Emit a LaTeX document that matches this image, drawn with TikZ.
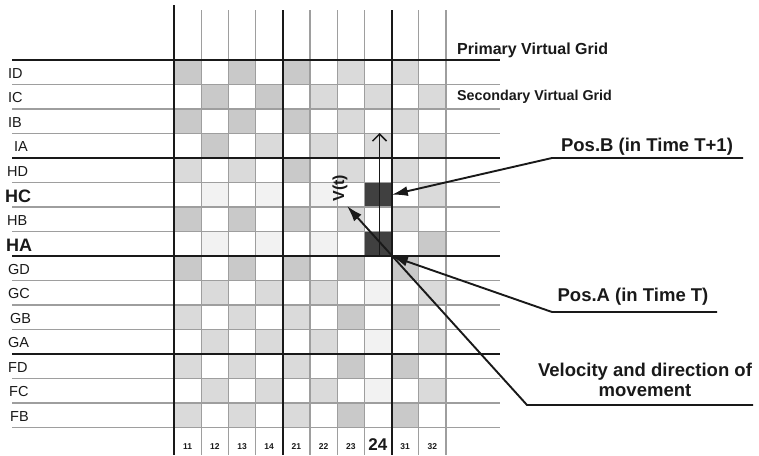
\documentclass[tikz,border=0pt]{standalone}
\usepackage{fontspec}
\setmainfont{Liberation Sans}
\usetikzlibrary{arrows.meta}
\definecolor{cm}{gray}{0.79}
\definecolor{cl}{gray}{0.855}
\definecolor{cv}{gray}{0.95}
\definecolor{cw}{gray}{1}
\definecolor{cd}{gray}{0.25}
\definecolor{gridgray}{gray}{0.62}
\definecolor{ink}{gray}{0.1}
\begin{document}
\begin{tikzpicture}[x=1pt,y=-1pt,
  thickline/.style={line width=1.9pt, ink},
  thinline/.style={line width=1.2pt, gridgray},
  rowlab/.style={anchor=west, inner sep=0pt, text=ink, font=\fontsize{14.5}{15}\selectfont},
  rowbold/.style={anchor=west, inner sep=0pt, text=ink, font=\fontsize{18}{19}\selectfont\bfseries},
  collab/.style={inner sep=0pt, text=ink, font=\fontsize{8.5}{9}\selectfont\bfseries},
  colbig/.style={inner sep=0pt, text=ink, font=\fontsize{17}{18}\selectfont\bfseries},
  lbl/.style={inner sep=0pt, text=ink, font=\fontsize{18.5}{20}\selectfont\bfseries},
  darkcell/.style={fill=cd, draw=none, minimum width=27.2pt, minimum height=24.5pt, inner sep=0pt},
  conn/.style={line width=1.9pt, ink},
  tipfill/.style={-{Latex[length=16pt,width=10pt]}}
]
\useasboundingbox (0,0) rectangle (759,455);

% cells
\foreach \row [count=\r from 0] in {
 {m,w,m,w,m,w,l,w,l,w},
 {w,m,w,m,w,l,w,l,w,l},
 {m,w,m,w,m,w,l,w,l,w},
 {w,m,w,l,w,l,w,l,w,l},
 {l,w,l,w,m,w,l,w,l,w},
 {w,v,w,v,w,v,w,w,w,l},
 {m,w,m,w,m,w,l,w,l,w},
 {w,v,w,v,w,v,w,w,w,m},
 {m,w,m,w,m,w,m,w,m,w},
 {w,l,w,l,w,l,w,v,w,l},
 {l,w,l,w,l,w,m,w,m,w},
 {w,l,w,l,w,l,w,v,w,l},
 {l,w,l,w,l,w,m,w,m,w},
 {w,l,w,l,w,l,w,v,w,l},
 {l,w,l,w,l,w,m,w,m,w}} {
  \foreach \t [count=\c from 0] in \row {
    \fill[fill=c\t] (174+27.2*\c, 60+24.5*\r) rectangle ++(27.2,24.5);
  }
}

% dark cells
\node[darkcell] (posB) at (378, 194.75) {};
\node[darkcell] (posA) at (378, 243.75) {};

% thin grid lines
\foreach \r in {1,2,3,5,6,7,9,10,11,13,14,15}
  \draw[thinline] (12,60+24.5*\r) -- (500,60+24.5*\r);
\foreach \c in {1,2,3,5,6,7,9,10}
  \draw[thinline] (174+27.2*\c,10) -- (174+27.2*\c,455);

% thick lines
\foreach \r in {0,4,8,12}
  \draw[thickline] (12,60+24.5*\r) -- (500,60+24.5*\r);
\draw[thickline] (174,5) -- (174,455);
\foreach \c in {4,8}
  \draw[thickline] (174+27.2*\c,10) -- (174+27.2*\c,455);

% row labels
\foreach \lab/\xx/\r in {ID/8/0, IC/8/1, IB/8/2, IA/14/3, HD/7/4, HB/7/6, GD/8/8, GC/8/9, GB/10/10, GA/8/11, FD/8/12, FC/9/13, FB/10/14}
  \node[rowlab] (row\r) at (\xx, 73.5+24.5*\r) {\lab};
\node[rowbold] (row5) at (5, 73.5+24.5*5) {HC};
\node[rowbold] (row7) at (6, 73.5+24.5*7) {HA};

% column labels
\foreach \lab [count=\c from 0] in {11,12,13,14,21,22,23}
  \node[collab] (col\c) at (187.6+27.2*\c, 447) {\lab};
\node[colbig] (col24) at (377.8, 445) {24};
\node[collab] (col31) at (405.2, 447) {31};
\node[collab] (col32) at (432.4, 447) {32};

% grid titles
\node[anchor=west, inner sep=0pt, text=ink, font=\fontsize{16}{17}\selectfont\bfseries] (pvg) at (457,50) {Primary Virtual Grid};
\node[anchor=west, inner sep=0pt, text=ink, font=\fontsize{14.3}{15}\selectfont\bfseries] (svg) at (457,97) {Secondary Virtual Grid};

% velocity vector
\coordinate (vbase) at (379.5,256);
\coordinate (vtop) at (379.5,133);
\draw[line width=1.5pt, ink, -{Straight Barb[length=7pt,width=14pt]}] (vbase) -- (vtop);
\node[rotate=90, inner sep=0pt, text=ink, font=\fontsize{16}{17}\selectfont\bfseries] (vt) at (340,188) {V(t)};

% Pos.B
\node[lbl] (lblB) at (647,147) {Pos.B (in Time T+1)};
\coordinate (bL) at (552,158);
\coordinate (bR) at (743,158);
\draw[conn, tipfill] (bR) -- (bL) -- (posB.east);

% Pos.A
\node[lbl] (lblA) at (633,297) {Pos.A (in Time T)};
\coordinate (aL) at (552,312);
\coordinate (aR) at (717,312);
\draw[conn, tipfill] (aR) -- (aL) -- (posA.south east);

% Velocity
\node[lbl, align=center] (lblV) at (645,380) {Velocity and direction of\\movement};
\coordinate (vL) at (527,405);
\coordinate (vR) at (753,405);
\coordinate (vtip) at (347,206);
\draw[conn, tipfill] (vR) -- (vL) -- (vtip);
\end{tikzpicture}
\end{document}
